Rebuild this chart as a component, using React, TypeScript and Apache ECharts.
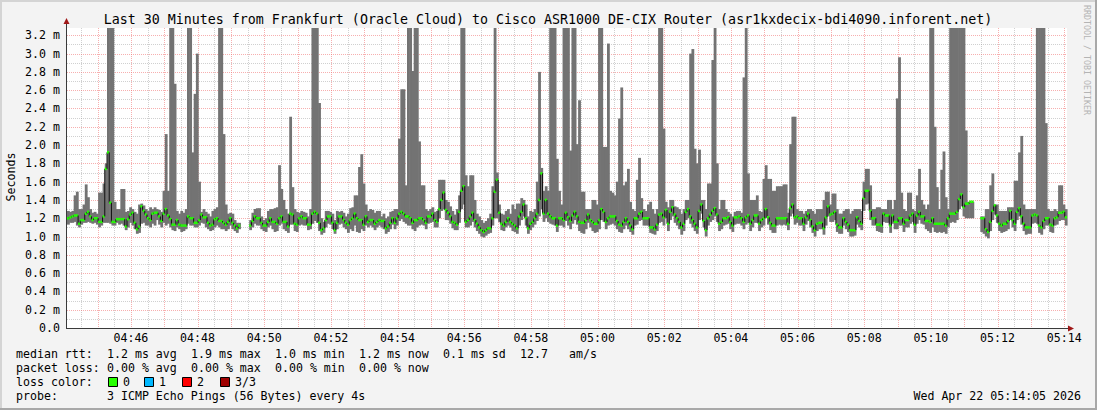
import React, { useEffect, useRef } from "react";
import * as echarts from "echarts";

// seconds after 04:44:00 of the first sample, and probe step (s)
const T0 = 5;
const STEP = 4;
const YMAX = 3.28;

// median rtt per 4 s sample (ms), null = no data
const MED: (number | null)[] = [
  1.20,1.21,1.22,1.23,1.23,1.14,1.18,1.18,1.25,1.27,1.22,1.18,1.20,1.20,1.16,
  1.16,1.22,1.74,1.92,1.37,1.16,1.16,1.19,1.19,1.19,1.19,1.11,1.19,1.24,1.26,
  1.15,1.08,1.11,1.33,1.28,1.24,1.20,1.18,1.25,1.26,1.26,1.22,1.17,1.25,1.30,
  1.23,1.19,1.13,1.13,1.18,1.13,1.12,1.12,1.12,1.22,1.20,1.20,1.15,1.15,1.18,
  1.24,1.21,1.21,1.15,1.12,1.13,1.19,1.20,1.17,1.17,1.15,1.13,1.16,1.20,1.15,
  1.12,1.09,1.12,null,null,null,null,1.12,1.17,1.22,1.20,1.20,1.15,1.12,1.12,
  1.16,1.20,1.16,1.16,1.14,1.20,1.22,1.16,1.16,1.11,1.25,1.24,1.14,1.13,1.20,
  1.22,1.20,1.20,1.13,1.13,1.25,1.27,1.25,1.15,1.07,1.09,1.18,1.22,1.22,1.15,
  1.07,1.15,1.22,1.22,1.18,1.15,1.13,1.18,1.20,1.25,1.20,1.18,1.18,1.13,1.22,
  1.16,1.18,1.18,1.14,1.16,1.18,1.17,1.17,1.09,1.11,1.15,1.20,1.15,1.20,1.25,
  1.27,1.25,1.22,1.22,1.20,1.15,1.18,1.18,1.20,1.20,1.18,1.15,1.22,1.22,1.25,
  1.18,1.16,1.30,1.40,1.48,1.29,1.26,1.22,1.16,1.15,1.13,1.27,1.50,1.55,1.16,
  1.18,1.22,1.26,1.18,1.14,1.10,1.07,1.05,1.07,1.09,1.09,1.20,1.49,1.62,1.26,
  1.14,1.12,1.16,1.20,1.16,1.14,1.12,1.09,1.22,1.27,1.35,1.20,1.09,1.14,1.16,
  1.20,1.25,1.40,1.69,1.25,1.40,1.25,1.22,1.20,1.20,1.12,1.20,1.20,1.18,1.26,
  1.21,1.17,1.23,1.27,1.22,1.16,1.15,1.15,1.18,1.24,1.18,1.16,1.14,1.14,1.18,
  1.30,1.27,1.16,1.20,1.22,1.22,1.22,1.17,1.13,1.12,1.16,1.20,1.16,1.12,1.08,
  1.20,1.20,1.25,1.27,1.20,1.20,1.20,1.10,1.10,1.08,1.13,1.24,1.25,1.21,1.29,
  1.14,1.27,1.32,1.24,1.20,1.16,1.10,1.14,1.27,1.30,1.22,1.18,1.14,1.10,1.28,
  1.35,1.17,1.07,1.20,1.24,1.28,1.31,1.24,1.14,1.16,1.20,1.20,1.21,1.16,1.12,
  1.21,1.21,1.22,1.20,1.16,1.21,1.23,1.14,1.18,1.23,1.23,1.14,1.18,1.20,1.30,
  1.21,1.15,1.12,1.12,1.20,1.20,1.20,1.20,1.20,1.14,1.31,1.35,1.21,1.22,1.20,
  1.20,1.14,1.21,1.25,1.18,1.11,1.07,1.14,1.15,1.15,1.09,1.21,1.33,1.24,1.25,
  1.27,1.13,1.10,1.10,1.20,1.16,1.13,1.07,1.07,1.07,1.21,1.17,1.14,1.42,1.50,
  1.50,1.28,1.20,1.20,1.13,1.13,1.12,1.25,1.23,1.23,1.12,1.23,1.16,1.16,1.20,
  1.20,1.14,1.18,1.18,1.23,1.25,1.13,1.23,1.27,1.22,1.22,1.17,1.17,1.16,1.20,
  1.14,1.14,1.14,1.14,1.14,1.12,1.20,1.25,1.25,1.25,1.27,1.41,1.46,1.32,1.36,
  1.36,1.38,1.38,null,null,null,1.20,1.20,1.08,1.05,1.16,1.28,1.34,1.23,1.14,
  1.12,1.14,1.14,1.17,1.28,1.18,1.14,1.27,1.31,1.22,1.14,1.10,1.10,1.10,1.23,
  1.24,1.23,1.12,1.10,1.17,1.20,1.20,1.13,1.12,1.20,1.21,1.26,1.26,1.27,1.21,
];

// lowest ping per sample (bottom of the smoke)
const LO: (number | null)[] = [
  1.13,1.15,1.15,1.16,1.12,1.10,1.13,1.15,1.15,1.16,1.15,1.14,1.15,1.13,1.10,
  1.12,1.15,1.15,1.15,1.14,1.12,1.12,1.15,1.13,1.14,1.12,1.07,1.10,1.15,1.12,
  1.08,1.03,1.04,1.14,1.15,1.12,1.12,1.10,1.14,1.12,1.18,1.13,1.10,1.15,1.12,
  1.14,1.10,1.07,1.06,1.10,1.08,1.05,1.06,1.08,1.14,1.12,1.12,1.10,1.10,1.12,
  1.15,1.14,1.10,1.08,1.06,1.07,1.10,1.12,1.10,1.08,1.08,1.06,1.08,1.12,1.08,
  1.06,1.04,1.08,null,null,null,null,1.07,1.10,1.14,1.12,1.12,1.08,1.06,1.05,
  1.10,1.12,1.08,1.05,1.06,1.12,1.14,1.08,1.06,1.04,1.13,1.13,1.06,1.05,1.12,
  1.13,1.12,1.12,1.07,1.08,1.14,1.17,1.15,1.06,1.02,1.04,1.10,1.14,1.13,1.08,
  1.03,1.08,1.13,1.14,1.10,1.08,1.04,1.08,1.06,1.12,1.05,1.04,1.08,1.06,1.12,
  1.10,1.12,1.10,1.07,1.10,1.12,1.10,1.08,1.03,1.05,1.08,1.13,1.08,1.12,1.17,
  1.19,1.16,1.14,1.12,1.12,1.08,1.06,1.10,1.12,1.13,1.12,1.08,1.14,1.15,1.16,
  1.10,1.10,1.20,1.28,1.30,1.18,1.18,1.14,1.09,1.07,1.07,1.15,1.30,1.35,1.10,
  1.10,1.12,1.16,1.10,1.06,1.03,1.00,0.99,1.01,1.03,1.04,1.12,1.20,1.20,1.16,
  1.07,1.06,1.10,1.12,1.10,1.06,1.05,1.03,1.12,1.18,1.22,1.12,1.03,1.07,1.10,
  1.13,1.17,1.22,1.30,1.16,1.20,1.16,1.14,1.13,1.12,1.05,1.12,1.12,1.10,1.17,
  1.12,1.08,1.14,1.18,1.13,1.06,1.04,1.03,1.08,1.15,1.10,1.06,1.04,1.05,1.08,
  1.18,1.16,1.08,1.12,1.13,1.14,1.12,1.08,1.05,1.04,1.08,1.12,1.08,1.05,1.02,
  1.12,1.13,1.17,1.18,1.12,1.12,1.12,1.04,1.03,1.02,1.06,1.15,1.16,1.12,1.20,
  1.06,1.18,1.22,1.15,1.12,1.08,1.02,1.06,1.18,1.20,1.14,1.10,1.06,1.03,1.18,
  1.25,1.10,1.00,1.12,1.16,1.18,1.22,1.16,1.06,1.08,1.12,1.13,1.14,1.08,1.05,
  1.13,1.14,1.14,1.12,1.08,1.13,1.15,1.06,1.10,1.15,1.15,1.06,1.10,1.12,1.20,
  1.13,1.07,1.04,1.04,1.12,1.13,1.12,1.13,1.12,1.07,1.22,1.25,1.13,1.15,1.12,
  1.12,1.06,1.13,1.17,1.10,1.04,1.00,1.06,1.08,1.08,1.02,1.12,1.22,1.16,1.16,
  1.18,1.05,1.03,1.03,1.12,1.08,1.05,1.00,1.00,1.01,1.13,1.10,1.07,1.28,1.35,
  1.36,1.18,1.12,1.12,1.06,1.05,1.04,1.16,1.15,1.15,1.04,1.14,1.08,1.08,1.12,
  1.12,1.05,1.10,1.10,1.14,1.16,1.04,1.14,1.18,1.14,1.13,1.08,1.06,1.04,1.10,
  1.05,1.04,1.05,1.04,1.05,1.03,1.10,1.15,1.16,1.15,1.18,1.30,1.33,1.22,1.20,
  1.20,1.20,1.20,null,null,null,1.05,1.03,1.00,0.98,1.06,1.18,1.24,1.15,1.06,
  1.04,1.05,1.06,1.08,1.18,1.10,1.06,1.18,1.22,1.13,1.06,1.02,1.03,1.03,1.14,
  1.15,1.14,1.04,1.02,1.08,1.12,1.12,1.05,1.04,1.12,1.13,1.17,1.18,1.18,1.12,
];

// highest ping per sample (top of the smoke); 3.6 = off the top of the scale
const HI: (number | null)[] = [
  1.28,1.27,1.28,1.45,1.49,1.30,1.30,1.35,1.57,1.43,1.30,1.26,1.27,1.25,1.48,
  1.48,1.58,1.80,3.6,3.6,3.6,1.38,1.30,1.30,1.52,1.52,1.27,1.28,1.32,1.30,
  1.27,1.25,1.35,1.36,1.34,1.30,1.28,1.32,1.30,1.32,1.30,1.29,1.27,1.50,2.12,
  1.50,3.6,3.6,2.67,1.28,1.25,1.28,1.26,1.30,3.6,3.6,1.92,2.56,3.00,1.60,
  1.27,1.30,1.27,1.25,1.22,1.28,1.30,1.32,3.6,3.6,2.12,1.35,1.25,1.26,1.25,
  1.18,1.15,1.15,null,null,null,null,1.18,1.26,1.30,1.31,1.31,1.22,1.18,1.20,
  1.28,1.30,1.30,1.31,1.32,1.78,1.52,1.40,1.30,1.25,2.31,1.54,1.30,1.27,1.26,
  1.28,1.27,1.26,1.22,1.30,3.6,3.6,3.6,2.46,1.20,1.16,1.28,1.28,1.27,1.25,
  1.18,1.28,1.27,1.28,1.26,1.22,1.25,1.31,1.32,1.45,1.45,1.76,1.90,1.58,1.35,
  1.28,1.30,1.29,1.26,1.28,1.28,1.22,1.25,1.20,1.22,1.27,1.28,1.30,1.30,2.07,
  2.61,2.61,1.56,3.6,3.6,2.81,3.6,3.6,2.04,1.56,1.56,1.30,1.28,1.30,1.32,
  1.27,1.28,1.62,1.62,1.62,1.40,1.38,1.33,1.28,1.24,1.30,1.45,3.6,3.6,1.67,
  1.55,1.67,1.67,1.40,1.25,1.22,1.18,1.15,1.17,1.20,1.25,1.55,3.6,1.70,1.35,
  1.25,1.24,1.28,1.30,1.25,1.35,1.30,1.36,1.36,1.42,1.40,1.35,1.22,1.28,1.27,
  1.30,1.60,2.80,1.75,1.50,1.55,1.50,3.6,3.6,3.6,1.85,1.50,1.35,3.6,3.6,
  3.6,1.94,3.6,3.6,2.01,2.49,1.49,1.49,1.30,1.30,1.30,1.40,1.40,1.35,3.6,
  3.6,1.98,1.98,3.11,1.50,1.48,1.45,1.60,2.29,2.63,1.56,1.60,1.74,1.38,1.30,
  1.28,1.62,1.86,1.42,1.30,1.28,1.35,1.38,1.30,1.25,1.30,3.6,3.6,2.18,1.38,
  1.32,1.40,1.40,1.33,1.32,1.30,1.25,1.30,1.40,1.40,3.00,3.05,1.96,1.80,1.95,
  1.40,1.40,1.30,1.58,1.58,2.93,3.6,1.80,1.30,1.40,1.40,1.30,1.27,1.25,1.22,
  1.27,1.28,1.28,1.26,2.74,3.6,1.69,1.40,1.40,1.40,1.45,1.28,1.27,1.63,1.78,
  1.63,1.63,1.50,1.50,1.55,1.55,1.55,1.57,1.57,1.26,2.01,2.31,2.31,1.30,1.28,
  1.28,1.25,1.28,1.30,1.30,1.28,1.25,1.30,1.30,1.30,1.40,1.49,1.49,1.35,1.47,
  1.47,1.30,1.25,1.25,1.28,1.30,1.30,1.25,1.28,1.30,1.30,1.30,1.28,1.60,1.74,
  1.74,1.56,1.30,1.30,1.32,1.32,1.30,1.30,1.30,1.40,1.40,1.30,1.40,2.51,2.96,
  1.48,1.30,1.28,1.48,1.48,1.30,1.28,1.45,1.74,1.40,1.35,1.30,1.35,3.6,3.6,
  2.20,1.54,1.30,1.73,1.93,1.43,1.30,3.6,3.6,3.6,3.6,3.6,3.6,3.6,2.16,
  1.38,1.38,1.38,null,null,null,1.22,1.22,1.30,1.30,1.56,1.69,1.35,1.35,1.28,
  1.28,1.28,1.28,1.32,1.32,1.32,1.61,1.61,1.92,2.10,1.35,1.30,1.30,1.30,1.30,
  1.30,3.6,3.6,3.6,3.6,2.24,1.30,1.28,1.28,1.30,1.28,1.56,1.56,1.35,1.30,
];

// x tick labels (seconds after 04:44:00)
const X_LABEL_SECS = [120, 240, 360, 480, 600, 720, 840, 960, 1080, 1200, 1320, 1440, 1560, 1680, 1800];
const X_LABELS = ["04:46", "04:48", "04:50", "04:52", "04:54", "04:56", "04:58", "05:00", "05:02", "05:04", "05:06", "05:08", "05:10", "05:12", "05:14"];
// y tick labels
const Y_TICKS = [0, 0.2, 0.4, 0.6, 0.8, 1.0, 1.2, 1.4, 1.6, 1.8, 2.0, 2.2, 2.4, 2.6, 2.8, 3.0, 3.2];
const Y_LABELS = ["0.0", "0.2 m", "0.4 m", "0.6 m", "0.8 m", "1.0 m", "1.2 m", "1.4 m", "1.6 m", "1.8 m", "2.0 m", "2.2 m", "2.4 m", "2.6 m", "2.8 m", "3.0 m", "3.2 m"];

const TITLE = "Last 30 Minutes from Frankfurt (Oracle Cloud) to Cisco ASR1000 DE-CIX Router (asr1kxdecix-bdi4090.inforent.net)";
// legend pieces: [text, monospace column]
const LEGEND_ROW1: [string, number][] = [["median rtt:", 0], ["1.2 ms avg", 13], ["1.9 ms max", 25], ["1.0 ms min", 37], ["1.2 ms now", 49], ["0.1 ms sd", 61], ["12.7", 72], ["am/s", 79]];
const LEGEND_ROW2: [string, number][] = [["packet loss:", 0], ["0.00 % avg", 13], ["0.00 % max", 25], ["0.00 % min", 37], ["0.00 % now", 49]];
const LOSS_LABELS = ["0", "1", "2", "3/3"];
const LOSS_COLORS = ["#26ff00", "#00b8ff", "#ff0000", "#a00000"];
const LOSS_BOX_X = [108, 144, 182, 220];
const PROBE_TEXT = "3 ICMP Echo Pings (56 Bytes) every 4s";
const DATE_TEXT = "Wed Apr 22 05:14:05 2026";

const MONO = "'DejaVu Sans Mono', monospace";
const FS = 11.6;
const CW = 7.0;

export default function App() {
  const ref = useRef<HTMLDivElement>(null);

  useEffect(() => {
    if (!ref.current) return;
    const chart = echarts.init(ref.current, undefined, { renderer: "svg" });

    const smokeData: number[][] = [];
    const medData: number[][] = [];
    for (let i = 0; i < MED.length; i++) {
      const m = MED[i];
      if (m == null) continue;
      const t = T0 + i * STEP;
      smokeData.push([t, LO[i] as number, HI[i] as number]);
      const pm = i > 0 && MED[i - 1] != null ? (MED[i - 1] as number) : -1;
      medData.push([t, m, pm]);
    }

    const gridData: number[][] = [];
    for (let s = 30; s <= 1800; s += 30) gridData.push([s, s % 60 === 0 ? 1 : 0]);
    for (let k = 1; k <= 32; k++) gridData.push([k / 10, k % 2 === 0 ? 3 : 2]);

    const MAJ = "rgba(240,110,110,0.55)";
    const MIN = "rgba(150,150,150,0.45)";

    const legendTexts: any[] = [];
    const addText = (text: string, x: number, y: number, align = "left") =>
      legendTexts.push({
        type: "text",
        x,
        y,
        style: { text, fill: "#000", font: `${FS}px ${MONO}`, textAlign: align, textVerticalAlign: "middle" },
      });
    LEGEND_ROW1.forEach(([t, c]) => addText(t, 16 + c * CW, 354));
    LEGEND_ROW2.forEach(([t, c]) => addText(t, 16 + c * CW, 368));
    addText("loss color:", 16, 382);
    LOSS_LABELS.forEach((t, k) => {
      legendTexts.push({
        type: "rect",
        shape: { x: LOSS_BOX_X[k] + 0.5, y: 377.5, width: 9, height: 9 },
        style: { fill: LOSS_COLORS[k], stroke: "#000", lineWidth: 1 },
      });
      addText(t, LOSS_BOX_X[k] + 15, 382);
    });
    addText("probe:", 16, 396);
    addText(PROBE_TEXT, 16 + 13 * CW, 396);
    addText(DATE_TEXT, 1081, 396, "right");

    chart.setOption({
      animation: false,
      backgroundColor: "#f3f3f3",
      grid: { left: 67, right: 30, top: 28, bottom: 82, show: true, backgroundColor: "#ffffff", borderWidth: 0 },
      xAxis: {
        type: "value",
        min: T0,
        max: T0 + MED.length * STEP,
        axisLine: { show: false },
        axisTick: { show: false },
        splitLine: { show: false },
        axisLabel: {
          customValues: X_LABEL_SECS,
          formatter: (v: number) => {
            const k = X_LABEL_SECS.indexOf(Math.round(v));
            return k >= 0 ? X_LABELS[k] : "";
          },
          fontFamily: MONO,
          fontSize: FS,
          color: "#000",
          margin: 4,
        },
      },
      yAxis: {
        type: "value",
        min: 0,
        max: YMAX,
        axisLine: { show: false },
        axisTick: { show: false },
        splitLine: { show: false },
        axisLabel: {
          customValues: Y_TICKS,
          formatter: (v: number) => {
            const k = Y_TICKS.findIndex((t) => Math.abs(t - v) < 1e-6);
            return k >= 0 ? Y_LABELS[k] : "";
          },
          fontFamily: MONO,
          fontSize: FS,
          color: "#000",
          margin: 7,
        },
      },
      series: [
        {
          type: "custom",
          z: 1,
          silent: true,
          data: gridData,
          renderItem: (params: any, api: any) => {
            const v = api.value(0);
            const kind = api.value(1);
            const cs = params.coordSys;
            if (kind < 2) {
              const x = Math.round(api.coord([v, 0])[0]) + 0.5;
              return {
                type: "line",
                shape: { x1: x, y1: cs.y, x2: x, y2: cs.y + cs.height },
                style: { stroke: kind === 1 ? MAJ : MIN, lineWidth: 1, lineDash: [1, 1] },
              };
            }
            const y = Math.round(api.coord([T0, v])[1]) + 0.5;
            return {
              type: "line",
              shape: { x1: cs.x, y1: y, x2: cs.x + cs.width, y2: y },
              style: { stroke: kind === 3 ? MAJ : MIN, lineWidth: 1, lineDash: [1, 1] },
            };
          },
        },
        {
          type: "custom",
          z: 2,
          silent: true,
          data: smokeData,
          renderItem: (params: any, api: any) => {
            const t = api.value(0);
            const lo = api.value(1);
            const hi = Math.min(api.value(2), YMAX);
            const a = api.coord([t, lo]);
            const b = api.coord([t + STEP, hi]);
            return {
              type: "rect",
              shape: { x: a[0], y: b[1], width: b[0] - a[0] + 0.6, height: a[1] - b[1] },
              style: { fill: "#737373" },
            };
          },
        },
        {
          type: "custom",
          z: 3,
          silent: true,
          data: medData,
          renderItem: (params: any, api: any) => {
            const t = api.value(0);
            const m = api.value(1);
            const pm = api.value(2);
            const a = api.coord([t, m]);
            const b = api.coord([t + STEP, m]);
            const children: any[] = [];
            if (pm >= 0) {
              const p = api.coord([t, pm]);
              children.push({
                type: "line",
                shape: { x1: a[0], y1: p[1], x2: a[0], y2: a[1] },
                style: { stroke: "#111", lineWidth: 1 },
              });
            }
            children.push({
              type: "rect",
              shape: { x: a[0], y: a[1] - 1.25, width: b[0] - a[0], height: 2.5 },
              style: { fill: "#22ff00" },
            });
            return { type: "group", children };
          },
        },
      ],
      graphic: [
        // frame
        { type: "rect", shape: { x: 0, y: 0, width: 1097, height: 2 }, style: { fill: "#d4d4d4" } },
        { type: "rect", shape: { x: 0, y: 0, width: 2, height: 410 }, style: { fill: "#d4d4d4" } },
        { type: "rect", shape: { x: 0, y: 408, width: 1097, height: 2 }, style: { fill: "#a8a8a8" } },
        { type: "rect", shape: { x: 1095, y: 0, width: 2, height: 410 }, style: { fill: "#a8a8a8" } },
        // axes
        { type: "line", shape: { x1: 66.5, y1: 328, x2: 66.5, y2: 22 }, style: { stroke: "#3a3a3a", lineWidth: 1 } },
        { type: "line", shape: { x1: 66, y1: 328.5, x2: 1070, y2: 328.5 }, style: { stroke: "#3a3a3a", lineWidth: 1 } },
        { type: "polygon", shape: { points: [[63.5, 24], [69.5, 24], [66.5, 18]] }, style: { fill: "#a01818" } },
        { type: "polygon", shape: { points: [[1068, 325.5], [1068, 331.5], [1074, 328.5]] }, style: { fill: "#a01818" } },
        // title
        {
          type: "text",
          x: 548,
          y: 19,
          style: { text: TITLE, fill: "#000", font: `13.3px ${MONO}`, textAlign: "center", textVerticalAlign: "middle" },
        },
        {
          type: "text",
          x: 11,
          y: 177,
          rotation: Math.PI / 2,
          style: { text: "Seconds", fill: "#000", font: `${FS}px ${MONO}`, textAlign: "center", textVerticalAlign: "middle" },
        },
        {
          type: "text",
          x: 1087,
          y: 5,
          rotation: -Math.PI / 2,
          style: { text: "RRDTOOL / TOBI OETIKER", fill: "#b4b4b4", font: `8.3px ${MONO}`, textAlign: "left", textVerticalAlign: "middle" },
        },
        ...legendTexts,
      ],
    });

    return () => chart.dispose();
  }, []);

  return <div ref={ref} style={{ position: "absolute", left: 0, top: 0, width: 1097, height: 410 }} />;
}
